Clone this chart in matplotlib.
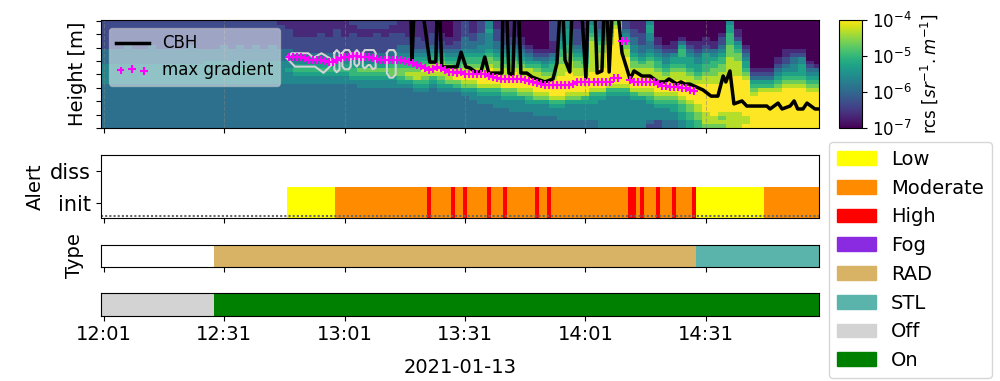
import numpy as np
import pandas as pd
import matplotlib
matplotlib.use("Agg")
import matplotlib.pyplot as plt
import matplotlib.dates as mdates
from matplotlib.colors import LogNorm
from matplotlib.patches import Patch

## rcs per 2 min column, top row first, digit is an index in rcs_levels
rcs_levels = [-7, -6.67, -6.33, -5.9, -5.6, -5.3, -5, -4.67, -4.33, -4]
rcs_cols = [
    "22222 22333 34444 43333 33333 33", "22222 22333 34444 43333 33333 33",
    "22222 22333 34444 43333 33333 33", "22222 23333 34444 43333 33333 33",
    "22222 22333 34444 43333 33333 33", "22222 22333 34444 43333 33333 33",
    "22222 23333 34444 43333 33333 33", "22222 22333 34444 43333 33333 33",
    "22222 22333 34444 43333 33333 33", "22222 22333 34444 43333 33333 33",
    "22222 22333 34444 43333 33333 33", "22222 23333 34444 43333 33333 33",
    "22222 22333 34444 43333 33333 33", "22222 22333 44444 43333 33333 33",
    "22222 22333 44444 43333 33333 33", "22222 23333 44444 43333 33333 33",
    "22222 22333 44444 43333 33333 33", "22222 23333 44544 43333 33333 33",
    "22222 22333 44544 43333 33333 33", "22222 23333 44444 43333 33333 33",
    "22222 22333 44544 43333 33333 33", "22222 23333 44444 43333 33333 33",
    "12222 22333 44444 43333 33333 33", "11222 22333 44544 43333 33333 33",
    "11112 22233 45654 43333 33333 33", "11112 22233 45654 43333 33333 33",
    "11112 22234 45654 43333 33333 33", "11122 22234 45654 43333 33333 33",
    "11112 22234 45654 43333 33333 33", "11222 22234 45654 43333 33333 33",
    "11112 22234 45654 43333 33333 33", "21122 22234 45665 43333 33333 33",
    "22112 22234 45765 44333 33333 33", "22112 22234 45765 44333 33333 33",
    "22122 22234 45765 44333 33333 33", "22112 22234 45765 44333 33333 33",
    "21122 22334 56775 44333 33333 33", "11122 23345 56776 54333 33333 33",
    "11112 23345 56787 54333 33333 33", "11112 22345 56788 65433 33333 33",
    "11111 22345 67987 65433 33333 33", "11122 23456 78986 54333 33333 33",
    "00011 22356 78987 65433 33333 33", "00001 12345 67988 75433 33333 33",
    "11111 22345 66899 76433 33333 33", "22223 33456 67899 87543 33333 33",
    "11122 33456 67899 87544 33333 33", "22233 34456 67899 98654 43333 33",
    "44544 44567 78999 98654 43333 33", "11222 33456 77899 98654 44333 33",
    "11122 23456 67889 99765 44333 33", "11112 23456 77899 99765 44433 33",
    "00001 12345 67889 99875 44433 33", "00000 01234 56889 99876 54433 33",
    "00000 00123 56788 99987 54443 33", "00000 00123 45678 99987 54443 33",
    "22222 11134 56678 99998 65443 33", "33344 55667 78889 99998 65444 33",
    "44555 56677 88899 99987 54444 33", "11222 23456 77889 99987 54444 33",
    "11122 33456 67889 99986 54444 33", "45567 88888 88899 99865 54444 33",
    "22345 67788 88999 99865 44444 44", "55678 89999 99999 98654 44444 44",
    "78999 99999 99999 98654 44444 44", "22345 67889 99999 98654 44444 44",
    "11223 34456 77899 99865 44444 44", "11122 23345 67889 99875 44444 44",
    "45544 33456 77889 99876 54444 32", "00001 12345 66788 99987 65444 22",
    "00000 01234 45678 99987 65444 33", "00000 11245 56788 99987 65544 33",
    "00001 35665 56788 99998 76655 44", "00000 12345 55678 89999 87766 55",
    "00000 11234 45567 89999 98877 66", "00001 12355 56678 89999 99988 87",
    "00000 11345 66778 89999 99998 87", "00012 23456 67788 89999 99987 87",
    "45566 67778 88889 99999 99988 88", "00112 45677 88889 99999 99988 88",
    "00000 01234 55678 99999 99998 89", "00000 00000 00123 56789 99999 99",
    "00000 00000 00123 56899 99999 99", "00000 00000 00123 56899 99999 99",
    "00000 00001 12345 67899 99999 99", "00000 00112 23456 78999 99999 99",
    "00000 00123 34456 78999 99999 99", "00000 00124 45556 78999 99999 99",
    "00000 00000 12345 67899 99999 99", "00000 00000 01345 67899 99999 99",
]

## cloud base height, minutes after 12:00 and metres (430 = off the top)
cbh_t = [77.5, 77.75, 78.25, 80.5, 82.2, 83.7, 84.0, 84.7, 85.2, 87.2, 89.0, 90.0, 91.2, 92.2, 94.0,
         95.0, 95.9, 96.9, 100.2, 100.4, 101.4, 101.9, 102.9, 103.4, 104.4, 104.9, 106.4, 107.7,
         110.9, 112.9, 113.9, 114.6, 115.4, 115.9, 117.1, 117.6, 120.1, 121.1, 121.6, 123.4, 123.9,
         125.1, 125.6, 126.4, 126.9, 127.6, 129.1, 130.1, 132.1, 133.1, 135.1, 137.1, 139.1, 140.8,
         141.8, 143.8, 144.8, 145.8, 147.0, 150.3, 152.3, 154.0, 155.3, 156.0, 157.0, 158.0, 160.0,
         161.2, 166.2, 167.0, 169.0, 170.0, 172.0, 173.0, 173.9, 175.2, 176.2, 178.2, 179.2]
cbh_h = [430, 246, 430, 430, 246, 246, 430, 430, 228, 228, 228, 283, 228, 224, 205,
         213, 265, 205, 205, 430, 430, 205, 198, 430, 430, 205, 205, 190,
         172, 183, 242, 430, 430, 254, 209, 430, 430, 187, 430, 430, 205,
         213, 430, 430, 209, 430, 430, 280, 183, 213, 194, 194, 172, 172,
         183, 164, 172, 164, 164, 142, 119, 119, 194, 172, 213, 90, 101,
         82, 82, 71, 93, 71, 82, 101, 71, 71, 93, 71, 71]

## max gradient, one value per minute from 12:47
grad_t = np.arange(47, 149)
grad_h = [265, 265, 265, 265, 261, 254, 254, 254, 254, 250, 246, 246, 254, 261, 265, 265, 269, 269,
          265, 265, 265, 261, 257, 254, 254, 254, 254, 254, 254, 250, 246, 242, 235, 231, 224, 216,
          220, 228, 224, 216, 209, 209, 205, 209, 201, 201, 201, 201, 201, 201, 194, 190, 187, 183,
          183, 183, 183, 183, 183, 179, 175, 172, 168, 164, 160, 160, 160, 160, 160, 160, 160, 164,
          172, 172, 172, 172, 172, 172, 172, 172, 172, 187, 187, 324, 324, 179, 172, 172, 172, 172,
          172, 172, 164, 157, 157, 153, 153, 153, 149, 149, 142, 138]

## grey contour outlines
cont_t = [[46.5, 47.8, 51.9, 53.2, 55.2, 57.3, 57.7, 55.7, 53.6, 48.6, 46.5],
          [58.4, 59.0, 59.7, 59.7, 59.0, 58.4, 58.4],
          [60.4, 61.0, 62.0, 62.5, 62.5, 62.0, 61.0, 60.4, 60.4],
          [63.4, 64.0, 64.6, 64.6, 64.0, 63.4, 63.4],
          [65.5, 66.0, 68.2, 68.7, 68.7, 68.0, 67.3, 66.9, 66.0, 65.5, 65.5],
          [71.5, 72.0, 73.2, 73.7, 73.7, 73.0, 72.2, 71.5, 71.5]]
cont_h = [[262, 279, 279, 262, 279, 260, 235, 206, 229, 229, 262],
          [280, 291, 280, 218, 208, 218, 280],
          [280, 291, 291, 280, 230, 219, 219, 230, 280],
          [280, 291, 280, 240, 229, 240, 280],
          [280, 291, 291, 280, 225, 219, 235, 235, 222, 230, 280],
          [280, 291, 291, 280, 200, 188, 188, 205, 280]]

## alert segments, minutes after 12:00
alert_edges = [46.5, 58.5, 81.5, 82.5, 87.5, 88.5, 90.5, 91.5, 96.5, 97.5, 100.5, 101.5, 108.5, 109.5,
               111.5, 112.5, 131.5, 133.5, 134.5, 135.5, 138.5, 139.5, 142.5, 143.5, 147.5, 148.5,
               165.5, 180]
alert_lvl = ["Low", "Moderate", "High", "Moderate", "High", "Moderate", "High", "Moderate", "High",
             "Moderate", "High", "Moderate", "High", "Moderate", "High", "Moderate", "High", "Moderate",
             "High", "Moderate", "High", "Moderate", "High", "Moderate", "High", "Low", "Moderate"]
type_edges = [28.5, 148.5, 180]
type_lbl = ["RAD", "STL"]
state_edges = [0, 28.5, 180]
state_lbl = ["Off", "On"]

colors = {"Low": "yellow", "Moderate": "darkorange", "High": "red", "Fog": "blueviolet",
          "RAD": "#d8b365", "STL": "#5ab4ac", "Off": "lightgray", "On": "green"}

day = pd.Timestamp("2021-01-13 12:00")


def to_date(minutes):
    return mdates.date2num(day + pd.to_timedelta(np.asarray(minutes, dtype=float), unit="min"))


def px_axes(x0, y0, x1, y1):
    return fig.add_axes([x0 / 1000, 1 - y1 / 381, (x1 - x0) / 1000, (y1 - y0) / 381])


def segments(ax, edges, labels, y, h):
    for i in range(len(labels)):
        t0, t1 = to_date([edges[i], edges[i + 1]])
        ax.barh(y, t1 - t0, left=t0, height=h, color=colors[labels[i]], linewidth=0)


fig = plt.figure(figsize=(10, 3.81), dpi=100)
ax1 = px_axes(100.5, 19.5, 819, 128)
ax2 = px_axes(100.5, 155, 819, 218)
ax3 = px_axes(100.5, 245, 819, 267)
ax4 = px_axes(100.5, 293, 819, 315.5)
cax = px_axes(838.5, 19.5, 862, 128)

idx = np.array([[int(c) for c in col.replace(" ", "")] for col in rcs_cols]).T[::-1]
rcs = 10.0 ** np.array(rcs_levels)[idx]
t_edges = to_date(np.arange(0, 182, 2))
h_edges = np.linspace(0, 400, 28)
pcm = ax1.pcolormesh(t_edges, h_edges, rcs, cmap="viridis", norm=LogNorm(1e-7, 1e-4))
for ct, ch in zip(cont_t, cont_h):
    ax1.plot(to_date(ct), ch, color="lightgray", lw=1.5)
ax1.plot(to_date(cbh_t), cbh_h, color="k", lw=2.5, label="CBH")
ax1.scatter(to_date(grad_t), grad_h, marker="+", color="magenta", s=30, linewidths=1.5, label="max gradient", zorder=3)
ax1.set_ylim(0, 405)
ax1.set_yticks(np.arange(0, 401, 50))
ax1.set_yticklabels([])
ax1.set_ylabel("Height [m]", fontsize=14)
ax1.yaxis.set_label_coords(-0.019, 0.5)
ax1.grid(axis="x", color="gray", ls="--", alpha=0.5)
ax1.legend(loc="upper left", fontsize=12, scatterpoints=3, framealpha=0.5)

cb = fig.colorbar(pcm, cax=cax)
cb.set_ticks([1e-7, 1e-6, 1e-5, 1e-4])
cb.ax.minorticks_off()
cb.ax.tick_params(labelsize=12)
cb.set_label("rcs [$sr^{-1}.m^{-1}$]", fontsize=12, labelpad=5)

segments(ax2, alert_edges, alert_lvl, 1, 1)
ax2.axhline(0.62, color="dimgray", ls=(0, (1, 1)), lw=1.5)
ax2.set_ylim(0.56, 2.47)
ax2.set_yticks([1, 2])
ax2.set_yticklabels(["init", "diss"], fontsize=15)
ax2.set_ylabel("Alert", fontsize=14)

segments(ax3, type_edges, type_lbl, 0, 1)
ax3.set_ylim(-0.5, 0.5)
ax3.set_yticks([])
ax3.set_ylabel("Type", fontsize=14)
ax3.yaxis.set_label_coords(-0.023, 0.5)

segments(ax4, state_edges, state_lbl, 0, 1)
ax4.set_ylim(-0.5, 0.5)
ax4.set_yticks([])
ax4.set_xlabel("2021-01-13", fontsize=14, labelpad=10)

for ax in [ax1, ax2, ax3, ax4]:
    ax.set_xlim(to_date([0.13, 179.2]))
    ax.set_xticks(to_date([1, 31, 61, 91, 121, 151]))
    ax.xaxis.set_major_formatter(mdates.DateFormatter("%H:%M"))
    if ax is not ax4:
        ax.set_xticklabels([])
ax4.tick_params(axis="x", labelsize=14)

handles = [Patch(color=colors[k], label=k) for k in colors]
fig.legend(handles=handles, loc="upper left", bbox_to_anchor=(0.829, 0.627), fontsize=14, borderaxespad=0)

plt.savefig("out.png", dpi=100)
